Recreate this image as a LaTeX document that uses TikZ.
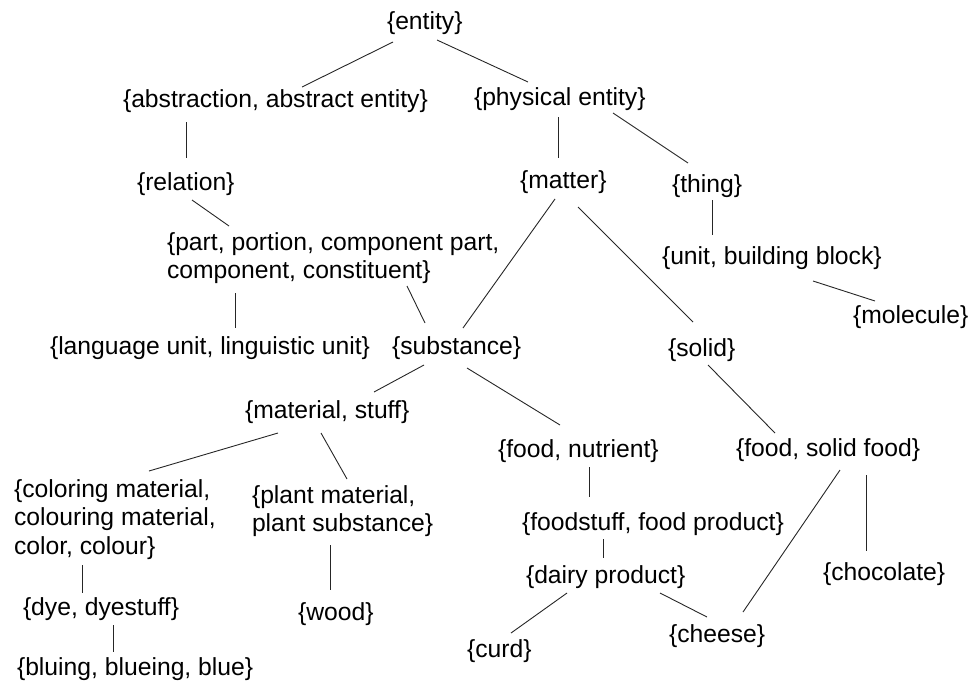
\documentclass[tikz,border=0pt]{standalone}
\usepackage{fontspec}
\setmainfont{Liberation Sans}
\tikzset{
  lbl/.style={inner sep=0pt, outer sep=0pt, anchor=base west, font=\fontsize{24.7}{28.5}\selectfont},
  link/.style={draw=black!85, line width=0.9pt}
}
\newcommand{\mlines}[1]{\begin{tabular}[t]{@{}l@{}}#1\end{tabular}}
\begin{document}
\begin{tikzpicture}[x=1pt,y=-1pt]
\useasboundingbox (0,0) rectangle (973,683);
% nodes (positions = left end of first baseline)
\node[lbl] (entity) at (387,29) {\{entity\}};
\node[lbl] (abs) at (123,107) {\{abstraction, abstract entity\}};
\node[lbl] (phys) at (474,105) {\{physical entity\}};
\node[lbl] (rel) at (137,190) {\{relation\}};
\node[lbl] (matter) at (520,188) {\{matter\}};
\node[lbl] (thing) at (672,192) {\{thing\}};
\node[lbl] (part) at (167,250) {\mlines{\{part, portion, component part,\\component, constituent\}}};
\node[lbl] (unit) at (662,264) {\{unit, building block\}};
\node[lbl] (molecule) at (853,323) {\{molecule\}};
\node[lbl] (lang) at (50,354) {\{language unit, linguistic unit\}};
\node[lbl] (subst) at (392,354) {\{substance\}};
\node[lbl] (solid) at (668,356) {\{solid\}};
\node[lbl] (material) at (245,418) {\{material, stuff\}};
\node[lbl] (fnut) at (498,457) {\{food, nutrient\}};
\node[lbl] (fsolid) at (736,456) {\{food, solid food\}};
\node[lbl] (color) at (14,497) {\mlines{\{coloring material,\\colouring material,\\color, colour\}}};
\node[lbl] (plant) at (252,503) {\mlines{\{plant material,\\plant substance\}}};
\node[lbl] (fstuff) at (522,530) {\{foodstuff, food product\}};
\node[lbl] (dairy) at (526,583) {\{dairy product\}};
\node[lbl] (choc) at (823,580) {\{chocolate\}};
\node[lbl] (dye) at (23,615) {\{dye, dyestuff\}};
\node[lbl] (wood) at (298,620) {\{wood\}};
\node[lbl] (cheese) at (669,642) {\{cheese\}};
\node[lbl] (curd) at (467,657) {\{curd\}};
\node[lbl] (bluing) at (17,675) {\{bluing, blueing, blue\}};
% connectors
\draw[link] ([shift={(6,13)}]entity.base west) -- ([shift={(179,-20)}]abs.base west);
\draw[link] ([shift={(50,11)}]entity.base west) -- ([shift={(54,-23)}]phys.base west);
\draw[link] ([shift={(63,15)}]abs.base west) -- ([shift={(49,-32)}]rel.base west);
\draw[link] ([shift={(55,10)}]rel.base west) -- ([shift={(62,-24)}]part.base west);
\draw[link] ([shift={(68,43)}]part.base west) -- ([shift={(185,-26)}]lang.base west);
\draw[link] ([shift={(240,36)}]part.base west) -- ([shift={(33,-31)}]subst.base west);
\draw[link] ([shift={(84,12)}]phys.base west) -- ([shift={(38,-30)}]matter.base west);
\draw[link] ([shift={(139,8)}]phys.base west) -- ([shift={(16,-29)}]thing.base west);
\draw[link] ([shift={(40,8)}]thing.base west) -- ([shift={(50,-29)}]unit.base west);
\draw[link] ([shift={(151,17)}]unit.base west) -- ([shift={(22,-22)}]molecule.base west);
\draw[link] ([shift={(35,11)}]matter.base west) -- ([shift={(71,-26)}]subst.base west);
\draw[link] ([shift={(58,19)}]matter.base west) -- ([shift={(25,-34)}]solid.base west);
\draw[link] ([shift={(32,11)}]subst.base west) -- ([shift={(129,-26)}]material.base west);
\draw[link] ([shift={(75,14)}]subst.base west) -- ([shift={(62,-32)}]fnut.base west);
\draw[link] ([shift={(40,9)}]solid.base west) -- ([shift={(39,-23)}]fsolid.base west);
\draw[link] ([shift={(33,15)}]material.base west) -- ([shift={(135,-26)}]color.base west);
\draw[link] ([shift={(76,15)}]material.base west) -- ([shift={(95,-24)}]plant.base west);
\draw[link] ([shift={(68,68)}]color.base west) -- ([shift={(59,-22)}]dye.base west);
\draw[link] ([shift={(90,10)}]dye.base west) -- ([shift={(96,-23)}]bluing.base west);
\draw[link] ([shift={(78,42)}]plant.base west) -- ([shift={(32,-30)}]wood.base west);
\draw[link] ([shift={(91,10)}]fnut.base west) -- ([shift={(67,-33)}]fstuff.base west);
\draw[link] ([shift={(81,9)}]fstuff.base west) -- ([shift={(77,-25)}]dairy.base west);
\draw[link] ([shift={(41,10)}]dairy.base west) -- ([shift={(44,-24)}]curd.base west);
\draw[link] ([shift={(134,10)}]dairy.base west) -- ([shift={(38,-25)}]cheese.base west);
\draw[link] ([shift={(104,14)}]fsolid.base west) -- ([shift={(74,-30)}]cheese.base west);
\draw[link] ([shift={(130,19)}]fsolid.base west) -- ([shift={(43,-29)}]choc.base west);
\end{tikzpicture}
\end{document}
